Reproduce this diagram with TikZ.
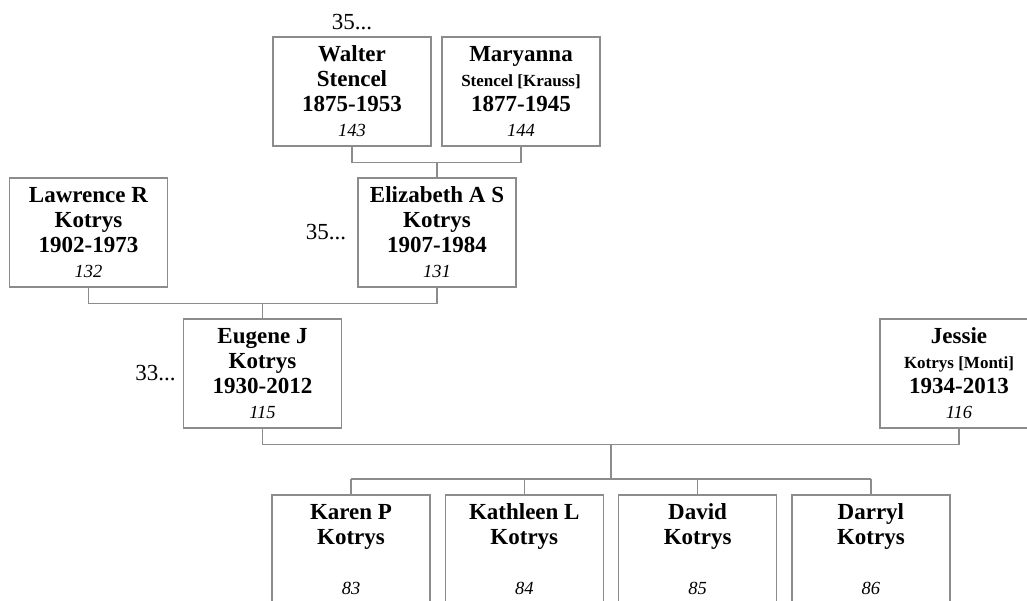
\documentclass[tikz,border=0pt]{standalone}
\usepackage{fontspec}
\setmainfont{Liberation Serif}
\definecolor{lncol}{HTML}{8C8C8C}
\newcommand{\pid}[1]{{\mdseries\itshape\fontsize{18.5}{25}\selectfont #1}}
\newcommand{\sur}[1]{{\fontsize{17}{25}\selectfont #1}}
\begin{document}
\begin{tikzpicture}[x=1pt,y=-1pt,
        pb/.style={draw=lncol,line width=1.2pt,fill=white,minimum width=158pt,minimum height=109pt,inner sep=0pt,align=center,font=\fontsize{23}{25}\selectfont\bfseries},
        ln/.style={draw=lncol,line width=1.2pt},
        gn/.style={font=\fontsize{23}{25}\selectfont,inner sep=0pt}]
        \useasboundingbox (0,0) rectangle (1027,601);
        \clip (0,0) rectangle (1027,601);
        \node[pb] (walter) at (352,91.5) {Walter\\Stencel\\1875-1953\\\pid{143}};
        \node[pb] (maryanna) at (521,91.5) {Maryanna\\\sur{Stencel [Krauss]}\\1877-1945\\\pid{144}};
        \node[pb] (lawrence) at (88.5,232.5) {Lawrence R\\Kotrys\\1902-1973\\\pid{132}};
        \node[pb] (elizabeth) at (437,232.5) {Elizabeth A S\\Kotrys\\1907-1984\\\pid{131}};
        \node[pb] (eugene) at (262.5,373.5) {Eugene J\\Kotrys\\1930-2012\\\pid{115}};
        \node[pb] (jessie) at (959,373.5) {Jessie\\\sur{Kotrys [Monti]}\\1934-2013\\\pid{116}};
        \foreach[count=\i] \a/\b in {Karen P/83,Kathleen L/84,David/85,Darryl/86} {
            \node[pb] (c\i) at (351+173.3*\i-173.3,549.5) {\a\\Kotrys\\\mbox{}\\\pid{\b}};
        }
        % generation counts
        \node[gn,above=6pt] (g1) at (walter.north) {35...};
        \node[gn,left=11pt] (g2) at (elizabeth.west) {35...};
        \node[gn,left=7pt] (g3) at (eugene.west) {33...};
        % couples and descent lines
        \draw[ln] (walter.south) -- ++(0,16) coordinate (wm) -| (maryanna.south);
        \draw[ln] (elizabeth.north) -- (elizabeth.north |- wm);
        \draw[ln] (lawrence.south) -- ++(0,16) coordinate (le) -| (elizabeth.south);
        \draw[ln] (eugene.north) -- (eugene.north |- le);
        \draw[ln] (eugene.south) -- ++(0,16) coordinate (ej) -| (jessie.south);
        \coordinate (fam) at (611,479);
        \draw[ln] (fam) -- (fam |- ej);
        \draw[ln] (c1.north |- fam) -- (c4.north |- fam);
        \foreach \i in {1,...,4} {
            \draw[ln] (c\i.north) -- (c\i.north |- fam);
        }
    \end{tikzpicture}
\end{document}
